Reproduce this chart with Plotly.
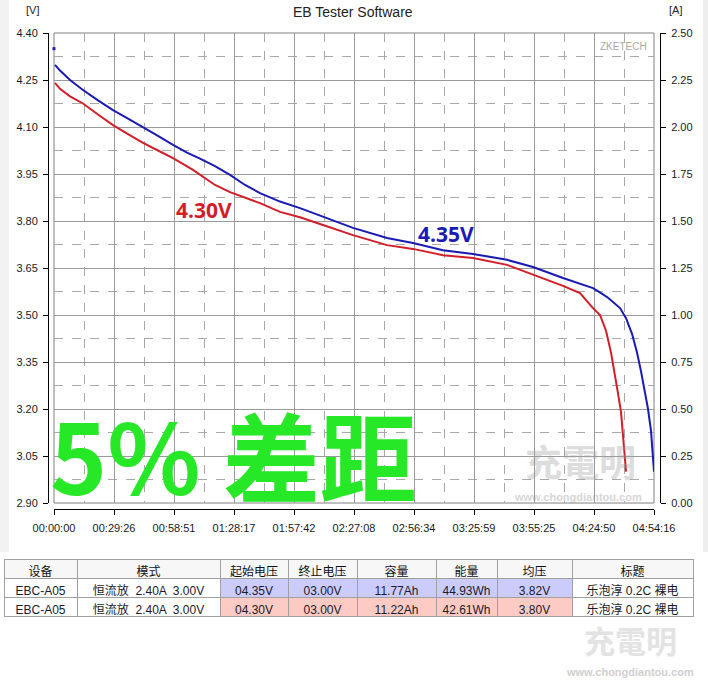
import plotly.graph_objects as go

W, H = 708, 681

# ---------------- data ----------------
time_tick_labels = ["00:00:00", "00:29:26", "00:58:51", "01:28:17", "01:57:42", "02:27:08",
                    "02:56:34", "03:25:59", "03:55:25", "04:24:50", "04:54:16"]
total_seconds = 17656

blue_start_t = [0]
blue_start_v = [4.35]

blue_t = [29, 177, 471, 853, 1295, 1736, 2178, 2619, 3060, 3502, 3914, 4296, 4738, 5179,
          5621, 6062, 6650, 7239, 7916, 8799, 9799, 10564, 11447, 12330, 13331, 14096,
          14978, 15861, 16097, 16303, 16656, 16833, 17009, 17156, 17274, 17391, 17480,
          17568, 17627, 17656]
blue_v = [4.298, 4.28, 4.25, 4.218, 4.185, 4.154, 4.127, 4.100, 4.072, 4.043, 4.018, 3.999,
          3.975, 3.947, 3.915, 3.889, 3.862, 3.841, 3.813, 3.778, 3.746, 3.730, 3.707, 3.695,
          3.676, 3.653, 3.618, 3.586, 3.570, 3.555, 3.522, 3.49, 3.44, 3.38, 3.32, 3.25,
          3.20, 3.13, 3.04, 3.00]

red_t = [29, 177, 471, 853, 1295, 1736, 2178, 2619, 3060, 3502, 4090, 4385, 4738, 5179,
         5621, 6062, 6650, 7239, 7916, 8799, 9799, 10564, 11447, 12330, 13331, 14096,
         14978, 15478, 15861, 16067, 16244, 16391, 16509, 16597, 16686, 16745, 16803, 16833]
red_v = [4.241, 4.222, 4.198, 4.175, 4.140, 4.106, 4.077, 4.049, 4.025, 4.001, 3.963, 3.940,
         3.915, 3.892, 3.874, 3.857, 3.829, 3.812, 3.787, 3.755, 3.723, 3.711, 3.691, 3.682,
         3.660, 3.630, 3.593, 3.570, 3.522, 3.50, 3.45, 3.38, 3.31, 3.25, 3.19, 3.12, 3.05,
         3.00]

table_header = ["设备", "模式", "起始电压", "终止电压", "容量", "能量", "均压", "标题"]
table_device = ["EBC-A05", "EBC-A05"]
table_mode = ["恒流放  2.40A  3.00V", "恒流放  2.40A  3.00V"]
table_start_v = ["04.35V", "04.30V"]
table_end_v = ["03.00V", "03.00V"]
table_capacity = ["11.77Ah", "11.22Ah"]
table_energy = ["44.93Wh", "42.61Wh"]
table_avg_v = ["3.82V", "3.80V"]
table_title = ["乐泡淳 0.2C 裸电", "乐泡淳 0.2C 裸电"]

# ---------------- styling helpers (window pixels -> paper fractions) ----------------
def px(x):
    return x / W

def py(y):
    return 1 - y / H

BLUE = "#1a1ab4"
RED = "#d21e28"
GREEN = "#26e826"
FONT = "Liberation Sans, Arial, sans-serif"
CJK = "Noto Sans CJK SC, sans-serif"

fig = go.Figure()

fig.add_trace(go.Scatter(x=red_t, y=red_v, mode="lines", line=dict(color=RED, width=2),
                         showlegend=False, hoverinfo="skip"))
fig.add_trace(go.Scatter(x=blue_t, y=blue_v, mode="lines", line=dict(color=BLUE, width=2),
                         showlegend=False, hoverinfo="skip"))
fig.add_trace(go.Scatter(x=blue_start_t, y=blue_start_v, mode="markers",
                         marker=dict(color=BLUE, size=3, symbol="square"),
                         showlegend=False, hoverinfo="skip", cliponaxis=False))
fig.add_trace(go.Scatter(x=[None], y=[None], yaxis="y2", showlegend=False, hoverinfo="skip"))

tickvals = [i * total_seconds / 10 for i in range(11)]

fig.add_trace(go.Table(
    domain=dict(x=[px(4), px(693)], y=[py(618), py(559)]),
    columnwidth=[73, 143, 68, 69, 79, 61, 75, 121],
    header=dict(values=table_header, height=19, align="center",
                fill_color="#f7f7f7", line=dict(color="#a0a0a0", width=1),
                font=dict(family=CJK, size=12, color="#111")),
    cells=dict(values=[table_device, table_mode, table_start_v, table_end_v,
                       table_capacity, table_energy, table_avg_v, table_title],
               height=19, align="center", line=dict(color="#a0a0a0", width=1),
               fill_color=[["#ffffff", "#ffffff"], ["#ffffff", "#ffffff"],
                           ["#ccccfc", "#fdcbc3"], ["#ccccfc", "#fdcbc3"],
                           ["#ccccfc", "#fdcbc3"], ["#ccccfc", "#fdcbc3"],
                           ["#ccccfc", "#fdcbc3"], ["#ffffff", "#ffffff"]],
               font=dict(family=FONT + ", Noto Sans CJK SC", size=12, color="#1a1a2a")),
))

axis_font = dict(family=FONT, size=11, color="#1a1a1a")

def ann(text, x, y, size, color, family=FONT, xanchor="center", opacity=1.0):
    return dict(text=text, x=px(x), y=py(y), xref="paper", yref="paper",
                xanchor=xanchor, yanchor="middle", showarrow=False, opacity=opacity,
                font=dict(family=family, size=size, color=color))

fig.update_layout(
    width=W, height=H, autosize=False,
    margin=dict(l=0, r=0, t=0, b=0, pad=0),
    paper_bgcolor="white", plot_bgcolor="white",
    template="none",
    xaxis=dict(domain=[px(54), px(654)], range=[0, total_seconds], anchor="free",
               position=py(509), showline=True, linecolor="black", linewidth=1,
               ticks="outside", ticklen=5, tickcolor="black", tickwidth=1,
               tickmode="array", tickvals=tickvals, ticktext=time_tick_labels,
               tickfont=axis_font, ticklabelstandoff=4,
               showgrid=True, gridcolor="#9a9a9a", gridwidth=1,
               zeroline=False, automargin=False,
               minor=dict(tick0=0, dtick=total_seconds / 20, showgrid=True,
                          gridcolor="#a8a8a8", griddash="dash", gridwidth=1)),
    yaxis=dict(domain=[py(503), py(33)], range=[2.90, 4.40], anchor="free",
               position=px(48), showline=True, linecolor="black", linewidth=1,
               ticks="outside", ticklen=5, tickcolor="black", tickwidth=1,
               tick0=2.90, dtick=0.15, tickformat=".2f", tickfont=axis_font,
               ticklabelstandoff=3,
               showgrid=True, gridcolor="#9a9a9a", gridwidth=1, zeroline=False,
               automargin=False,
               minor=dict(tick0=2.90, dtick=0.075, showgrid=True,
                          gridcolor="#a8a8a8", griddash="dash", gridwidth=1)),
    yaxis2=dict(overlaying="y", side="right", anchor="free", position=px(660),
                range=[0, 2.5], tick0=0, dtick=0.25, tickformat=".2f",
                showline=True, linecolor="black", linewidth=1, ticks="outside",
                ticklen=5, tickcolor="black", tickfont=axis_font, ticklabelstandoff=3,
                showgrid=False, zeroline=False, automargin=False),
    shapes=[
        dict(type="rect", xref="x domain", yref="y domain", x0=0, x1=1, y0=0, y1=1,
             line=dict(color="#808080", width=1), fillcolor="rgba(0,0,0,0)", layer="below"),
        dict(type="rect", xref="paper", yref="paper", x0=0, x1=px(9), y0=py(552), y1=1,
             line=dict(width=0), fillcolor="#f2f2f2", layer="below"),
        dict(type="rect", xref="paper", yref="paper", x0=px(703), x1=1, y0=py(552), y1=1,
             line=dict(width=0), fillcolor="#eeeeee", layer="below"),
    ],
    annotations=[
        ann("EB Tester Software", 353, 12, 14, "#222"),
        ann("[V]", 32, 10, 11, "#222"),
        ann("[A]", 675, 10, 11, "#222"),
        ann("ZKETECH", 623, 47, 10, "#a8a8a8"),
        ann("<b>4.30V</b>", 204, 210, 21, RED, family="Noto Sans, sans-serif"),
        ann("<b>4.35V</b>", 446, 234, 21, BLUE, family="Noto Sans, sans-serif"),
        ann("<b>充電明</b>", 580, 461, 37, "#a0a0a0", family=CJK, opacity=0.35),
        ann("<b>www.chongdiantou.com</b>", 578, 497, 11, "#9a9a9a", opacity=0.4),
        ann("<b>5% 差距</b>", 48, 452, 97, GREEN, family=CJK, xanchor="left"),
        ann("<b>充電明</b>", 630, 639, 31, "#c8c8c8", family=CJK, opacity=0.5),
        ann("<b>www.chongdiantou.com</b>", 630, 672, 11, "#b0b0b0", opacity=0.6),
    ],
)

# remove the page's default 8px body margin so the figure sits at the window corner
fig.write_html("out.html", config={"displayModeBar": False},
               post_script="document.body.style.margin='0px';")
